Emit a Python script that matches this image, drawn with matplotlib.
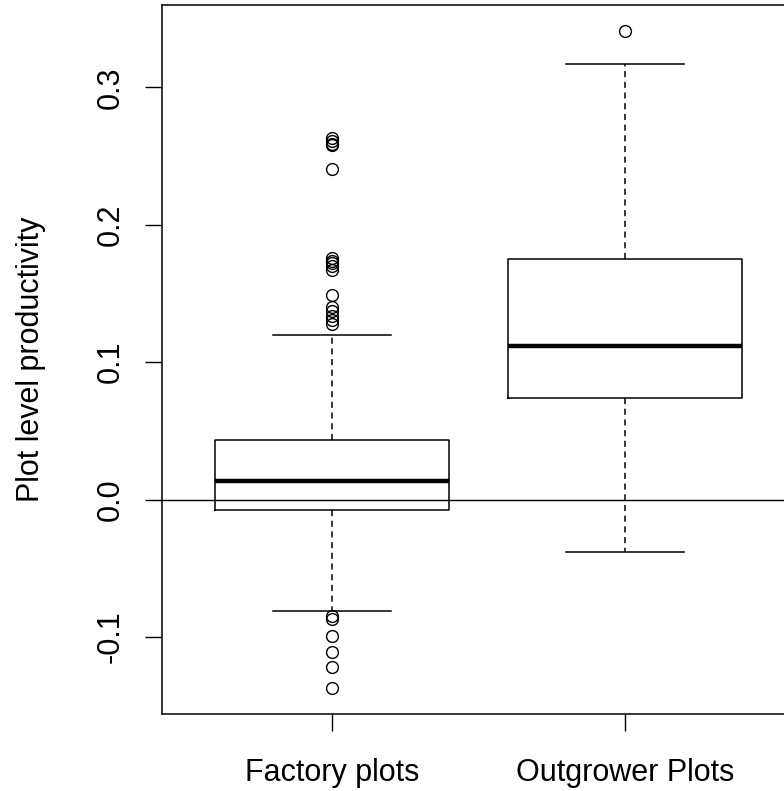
import matplotlib.pyplot as plt

plt.rcParams["font.family"] = ["Liberation Sans", "DejaVu Sans"]

# box statistics
groups = ["Factory plots", "Outgrower Plots"]
q1 = [-0.0073, 0.074]
med = [0.0138, 0.112]
q3 = [0.0437, 0.175]
whislo = [-0.081, -0.038]
whishi = [0.1195, 0.317]
fliers_factory = [0.263, 0.261, 0.259, 0.258, 0.2405,
                  0.176, 0.174, 0.172, 0.170, 0.167,
                  0.149, 0.140, 0.137, 0.134, 0.131, 0.1275,
                  -0.085, -0.087, -0.099, -0.111, -0.122, -0.137]
fliers_outgrower = [0.341]
fliers = [fliers_factory, fliers_outgrower]

stats = []
for i, g in enumerate(groups):
    stats.append(dict(label=g, q1=q1[i], med=med[i], q3=q3[i],
                      whislo=whislo[i], whishi=whishi[i], fliers=fliers[i]))

fig = plt.figure(figsize=(7.84, 7.91), dpi=100)
ax = fig.add_axes([162 / 784, 77 / 791, 633 / 784, 709 / 791])

ax.bxp(stats, positions=[1, 2], widths=0.8, showfliers=True,
       patch_artist=False,
       boxprops=dict(color="black", linewidth=1.1),
       medianprops=dict(color="black", linewidth=3.2, solid_capstyle="butt"),
       whiskerprops=dict(color="black", linewidth=1.1, linestyle=(0, (4, 3))),
       capprops=dict(color="black", linewidth=1.1),
       capwidths=0.4,
       flierprops=dict(marker="o", markerfacecolor="none", markeredgecolor="black",
                       markersize=8.5, markeredgewidth=1.0))

ax.axhline(0, color="black", linewidth=1.0)

ax.set_xlim(0.42, 2.58)
ax.set_ylim(-0.156, 0.360)
ax.set_yticks([-0.1, 0.0, 0.1, 0.2, 0.3])
ax.set_yticklabels(["-0.1", "0.0", "0.1", "0.2", "0.3"], rotation=90, va="center")
ax.set_xticks([1, 2])
ax.set_xticklabels(groups)
ax.tick_params(axis="both", labelsize=22, length=12, width=1.0, pad=14)
ax.tick_params(axis="x", pad=20)
ax.set_ylabel("Plot level productivity", fontsize=22, labelpad=36)

for s in ax.spines.values():
    s.set_linewidth(1.1)

fig.savefig("out.png", dpi=100)
